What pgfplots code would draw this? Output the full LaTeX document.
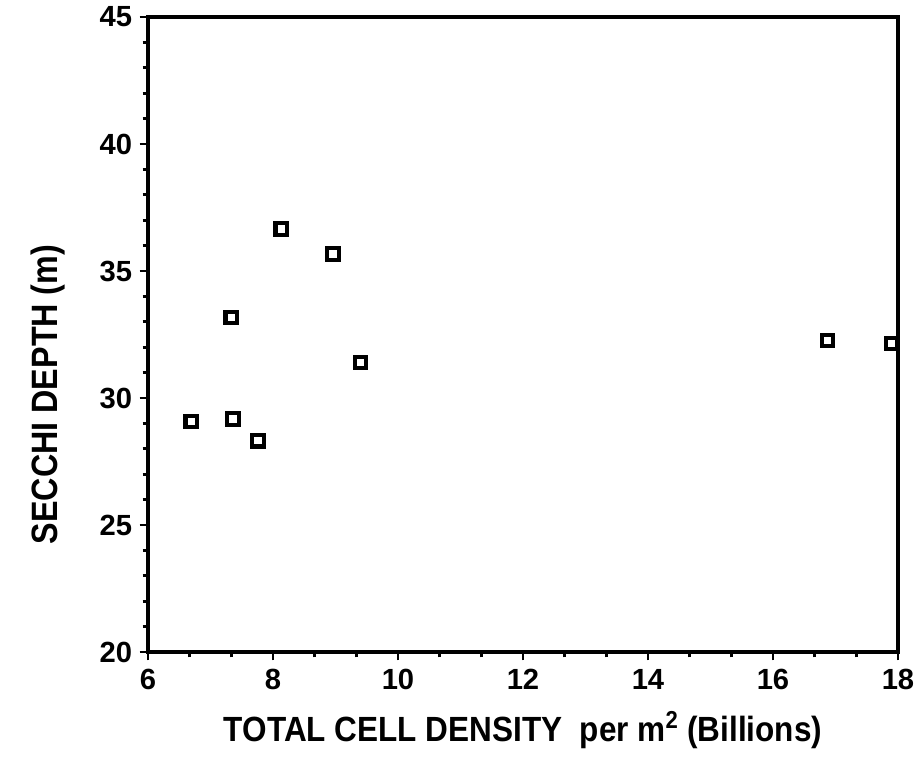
\documentclass[border=0pt]{standalone}
\usepackage{fontspec}
\setmainfont{Liberation Sans}
\usepackage{graphicx}
\usepackage{pgfplots}
\pgfplotsset{compat=1.18}
\begin{document}
\begin{tikzpicture}
\begin{axis}[
  scale only axis,
  width=450pt, height=381pt,
  xmin=6, xmax=18, ymin=20, ymax=45,
  xtick={6,8,...,18}, ytick={20,25,...,45},
  minor x tick num=2, minor y tick num=4,
  tick align=outside,
  xtick pos=bottom, ytick pos=left,
  major tick length=5pt, minor tick length=3.2pt,
  every tick/.style={line width=1.6pt, black},
  axis line style={line width=2pt},
  /pgf/number format/assume math mode=true,
  ticklabel style={font=\fontsize{17.5}{20}\selectfont\bfseries},
  yticklabel style={xshift=-1pt},
  xticklabel style={yshift=-2pt},
  xlabel={\scalebox{0.9}[1]{TOTAL CELL DENSITY\ \ per m$^{\mathbf{2}}$ (Billions)}},
  xlabel style={font=\fontsize{21}{24}\selectfont\bfseries, yshift=-6pt},
  ylabel={\scalebox{0.88}[1]{SECCHI DEPTH (m)}},
  ylabel style={font=\fontsize{22}{26}\selectfont\bfseries, yshift=14pt, xshift=-36pt},
]
\addplot[only marks, mark=square, mark size=3.4pt, line width=2.5pt, black] coordinates {
  (6.69,29.07) (7.36,29.17) (7.76,28.31) (7.33,33.16) (8.13,36.65)
  (8.96,35.67) (9.40,31.39) (16.87,32.26) (17.90,32.15)
};
\end{axis}
\pgfresetboundingbox
\path[use as bounding box] ([xshift=-88.8pt,yshift=-67.2pt]current axis.south west) rectangle ([xshift=10.8pt,yshift=10.2pt]current axis.north east);
\end{tikzpicture}
\end{document}
